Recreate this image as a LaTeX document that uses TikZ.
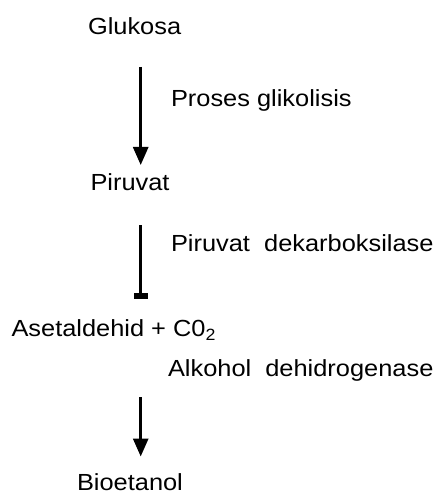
\documentclass[tikz,border=0pt]{standalone}
\usepackage{fontspec}
\setmainfont{Liberation Sans}[FakeStretch=1.09]
\usetikzlibrary{arrows.meta}
\begin{document}
\begin{tikzpicture}[x=1pt,y=-1pt,
  lbl/.style={anchor=base west, inner sep=0pt, outer sep=0pt, font=\fontsize{23.3}{28}\selectfont},
  flow/.style={line width=2.8pt, -{Triangle[width=15pt,length=18pt]}},
  cutflow/.style={line width=2.8pt, -{Bar[width=14pt,line width=6.5pt]}}]
\useasboundingbox (0,0) rectangle (444,494);
\node[lbl] (glu) at (88,35) {Glukosa};
\node[lbl] (pir) at (90.5,190.5) {Piruvat};
\node[lbl] (ase) at (11.5,336.5) {Asetaldehid + C0\textsubscript{2}};
\node[lbl] (bio) at (77,490.5) {Bioetanol};
\node[lbl] (e1) at (171,107) {Proses glikolisis};
\node[lbl] (e2) at (171,251) {Piruvat\ \ dekarboksilase};
\node[lbl] (e3) at (168,376.5) {Alkohol\ \ dehidrogenase};
\coordinate (ax) at (140.7,0);
\draw[flow, shorten <=32pt, shorten >=25.5pt] (glu.base -| ax) -- (pir.base -| ax);
\draw[cutflow, shorten <=34.5pt, shorten >=37.5pt] (pir.base -| ax) -- (ase.base -| ax);
\draw[flow, shorten <=60.5pt, shorten >=34pt] (ase.base -| ax) -- (bio.base -| ax);
\end{tikzpicture}
\end{document}
